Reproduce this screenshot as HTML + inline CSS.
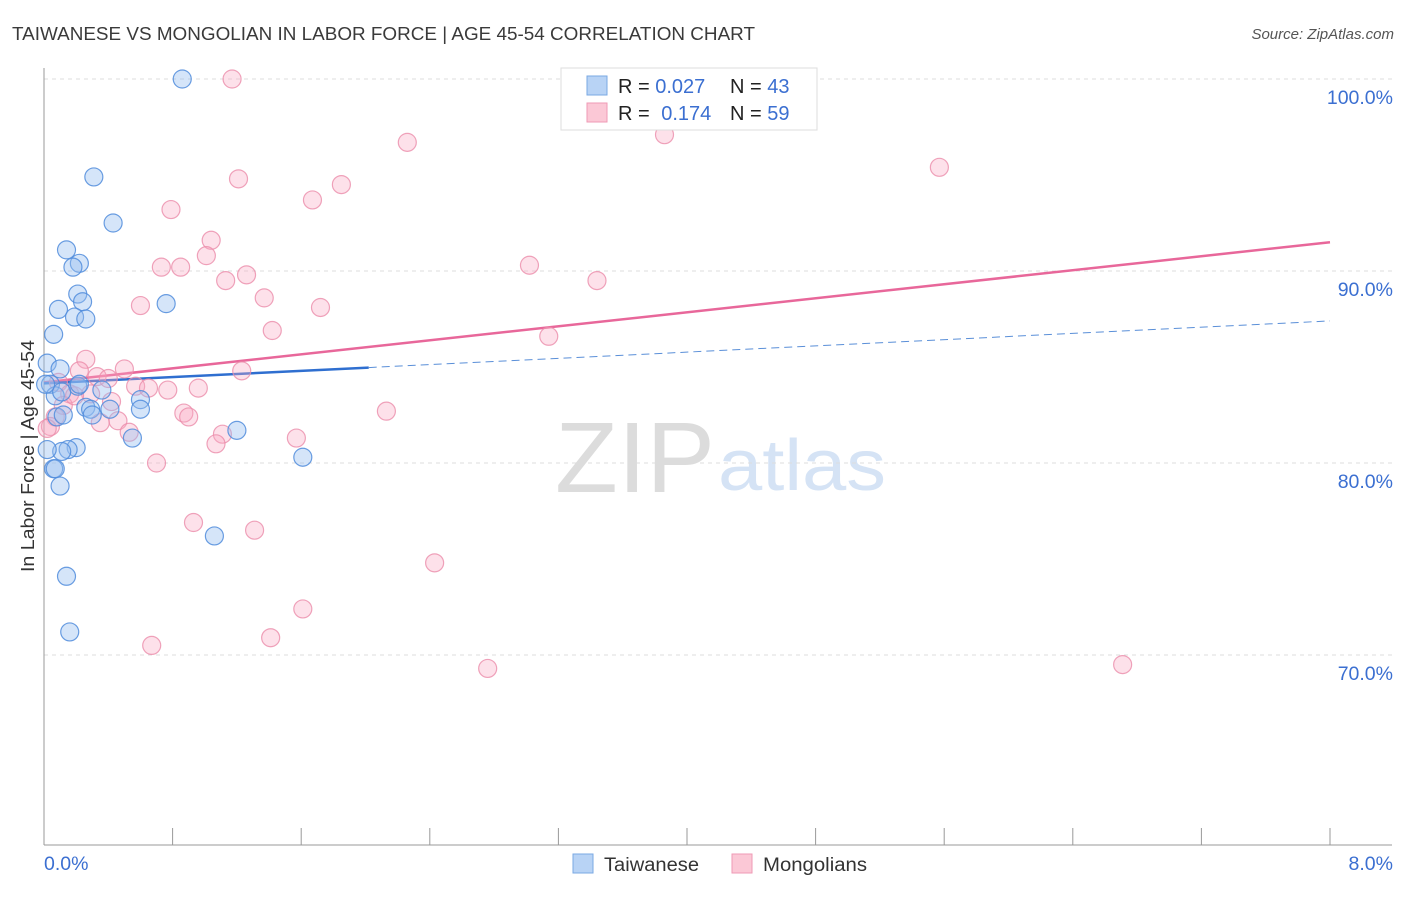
<!DOCTYPE html>
<html><head><meta charset="utf-8">
<style>
body{margin:0;background:#fff;font-family:"Liberation Sans",sans-serif;}
svg text{font-family:"Liberation Sans",sans-serif;}
</style></head>
<body>
<svg id="chart" width="1406" height="892" xmlns="http://www.w3.org/2000/svg">
<text x="12" y="40" font-size="18" fill="#3a3a3a" textLength="743" lengthAdjust="spacingAndGlyphs">TAIWANESE VS MONGOLIAN IN LABOR FORCE | AGE 45-54 CORRELATION CHART</text>
<text x="1394" y="39" font-size="15" fill="#555" text-anchor="end" font-style="italic">Source: ZipAtlas.com</text>
<g>
<text x="555" y="492" font-size="100" fill="#dcdcdc" font-family="Liberation Serif" textLength="160" lengthAdjust="spacingAndGlyphs">ZIP</text>
<text x="718" y="490" font-size="72" fill="#d5e3f5" textLength="168" lengthAdjust="spacingAndGlyphs">atlas</text>
</g>
<g id="grid"></g>
<g id="axes"></g>
<g id="trends"></g>
<g id="points"></g>
<text transform="translate(34,456) rotate(-90)" font-size="18" fill="#333" text-anchor="middle" textLength="232" lengthAdjust="spacingAndGlyphs">In Labor Force | Age 45-54</text>
<g>
<rect x="561" y="68" width="256" height="62" fill="#fff" stroke="#ddd"/>
<rect x="587" y="76" width="20" height="19" fill="#b8d3f5" stroke="#7aa8e3"/>
<rect x="587" y="103" width="20" height="19" fill="#fbc8d6" stroke="#ef9ab5"/>
<text x="618" y="93" font-size="20" fill="#222">R = <tspan fill="#3b6fd1">0.027</tspan></text>
<text x="730" y="93" font-size="20" fill="#222">N = <tspan fill="#3b6fd1">43</tspan></text>
<text x="618" y="120" font-size="20" fill="#222">R = <tspan fill="#3b6fd1" dx="6">0.174</tspan></text>
<text x="730" y="120" font-size="20" fill="#222">N = <tspan fill="#3b6fd1">59</tspan></text>
</g>
<g>
<rect x="573" y="854" width="20" height="19" fill="#b8d3f5" stroke="#7aa8e3"/>
<text x="604" y="871" font-size="19" fill="#333" textLength="95" lengthAdjust="spacingAndGlyphs">Taiwanese</text>
<rect x="732" y="854" width="20" height="19" fill="#fbc8d6" stroke="#ef9ab5"/>
<text x="763" y="871" font-size="19" fill="#333" textLength="104" lengthAdjust="spacingAndGlyphs">Mongolians</text>
</g>
</svg>
<script>
const yTicks=[100,90,80,70];
const yTickLabels=["100.0%","90.0%","80.0%","70.0%"];
const xTickCount=10;
const xLabels=["0.0%","8.0%"];
const blueX=[0.86,0.31,0.43,0.14,0.22,0.18,0.21,0.24,0.09,0.76,0.19,0.26,0.06,0.02,0.10,0.04,0.21,0.07,0.36,0.26,0.29,0.41,0.60,0.60,0.30,0.08,0.12,0.55,1.20,0.20,0.15,0.11,0.02,1.61,0.06,0.07,0.10,1.06,0.14,0.16,0.11,0.22,0.01];
const blueY=[100.0,94.9,92.5,91.1,90.4,90.2,88.8,88.4,88.0,88.3,87.6,87.5,86.7,85.2,84.9,84.1,84.0,83.5,83.8,82.9,82.8,82.8,83.3,82.8,82.5,82.4,82.5,81.3,81.7,80.8,80.7,80.6,80.7,80.3,79.7,79.7,78.8,76.2,74.1,71.2,83.7,84.1,84.1];
const pinkX=[1.17,4.01,3.86,2.26,5.57,1.21,1.85,1.67,0.79,1.04,1.01,0.73,0.85,3.02,1.26,1.13,3.44,1.37,0.60,1.72,1.42,3.14,0.26,0.50,1.23,0.22,0.33,0.40,0.09,0.57,0.65,0.77,0.96,0.16,0.29,0.42,0.12,0.87,0.90,2.13,0.46,0.35,0.07,0.04,0.53,1.11,1.07,1.57,0.70,0.93,1.31,2.43,1.61,1.41,0.67,2.76,6.71,0.02,0.19];
const pinkY=[100.0,99.9,97.1,96.7,95.4,94.8,94.5,93.7,93.2,91.6,90.8,90.2,90.2,90.3,89.8,89.5,89.5,88.6,88.2,88.1,86.9,86.6,85.4,84.9,84.8,84.8,84.5,84.4,84.2,84.0,83.9,83.8,83.9,83.6,83.6,83.2,83.0,82.6,82.4,82.7,82.2,82.1,82.4,81.9,81.6,81.5,81.0,81.3,80.0,76.9,76.5,74.8,72.4,70.9,70.5,69.3,69.5,81.8,83.5];
const blueTrend=[84.15,87.4];
const pinkTrend=[84.2,91.5];
const blueSolidEnd=2.02;

const NS="http://www.w3.org/2000/svg";
const sx=v=>44+v*160.75;
const sy=v=>79+(100-v)*19.2;
function mk(tag,attrs,parent){const e=document.createElementNS(NS,tag);for(const k in attrs)e.setAttribute(k,attrs[k]);parent.appendChild(e);return e;}
const grid=document.getElementById('grid'),axes=document.getElementById('axes'),tr=document.getElementById('trends'),pts=document.getElementById('points');
yTicks.forEach((t,i)=>{
 const l=mk('line',{x1:44,x2:1392,y1:sy(t),y2:sy(t),stroke:'#ddd','stroke-dasharray':'4,4'},grid);
 
 
 const tx=mk('text',{x:1393,y:sy(t)+25,'font-size':19.5,fill:'#3b6fd1','text-anchor':'end'},axes);
 tx.textContent=yTickLabels[i];
 
 
});
const ya=mk('line',{x1:44,x2:44,y1:68,y2:845,stroke:'#999'},axes);


const xa=mk('line',{x1:44,x2:1392,y1:845,y2:845,stroke:'#999'},axes);


for(let i=0;i<=xTickCount;i++){
 const v=i*8/xTickCount;
 const t=mk('line',{x1:sx(v),x2:sx(v),y1:828,y2:845,stroke:'#999'},axes);
 
 
}
const xl0=mk('text',{x:44,y:870,'font-size':19.5,fill:'#3b6fd1'},axes);xl0.textContent=xLabels[0];


const xl1=mk('text',{x:1393,y:870,'font-size':19.5,fill:'#3b6fd1','text-anchor':'end'},axes);xl1.textContent=xLabels[1];



function dot(x,y,fill,stroke,name){
 const c=mk('circle',{cx:sx(x),cy:sy(y),r:9,fill:fill,stroke:stroke,'stroke-width':1.2},pts);
 
 
}
pinkX.forEach((x,i)=>dot(x,pinkY[i],'rgba(248,170,195,0.35)','rgba(235,140,170,0.8)','mongolian-point'));
blueX.forEach((x,i)=>dot(x,blueY[i],'rgba(150,190,240,0.4)','rgba(80,140,220,0.85)','taiwanese-point'));

const bAt=v=>blueTrend[0]+(blueTrend[1]-blueTrend[0])*v/8;
const p=mk('line',{x1:sx(0),y1:sy(pinkTrend[0]),x2:sx(8),y2:sy(pinkTrend[1]),stroke:'#e8679a','stroke-width':2.5},tr);


const b1=mk('line',{x1:sx(0),y1:sy(bAt(0)),x2:sx(blueSolidEnd),y2:sy(bAt(blueSolidEnd)),stroke:'#2f6fd0','stroke-width':2.5},tr);


const b2=mk('line',{x1:sx(blueSolidEnd),y1:sy(bAt(blueSolidEnd)),x2:sx(8),y2:sy(bAt(8)),stroke:'#5a8fd8','stroke-width':1,'stroke-dasharray':'8,5'},tr);


</script>
</body></html>
